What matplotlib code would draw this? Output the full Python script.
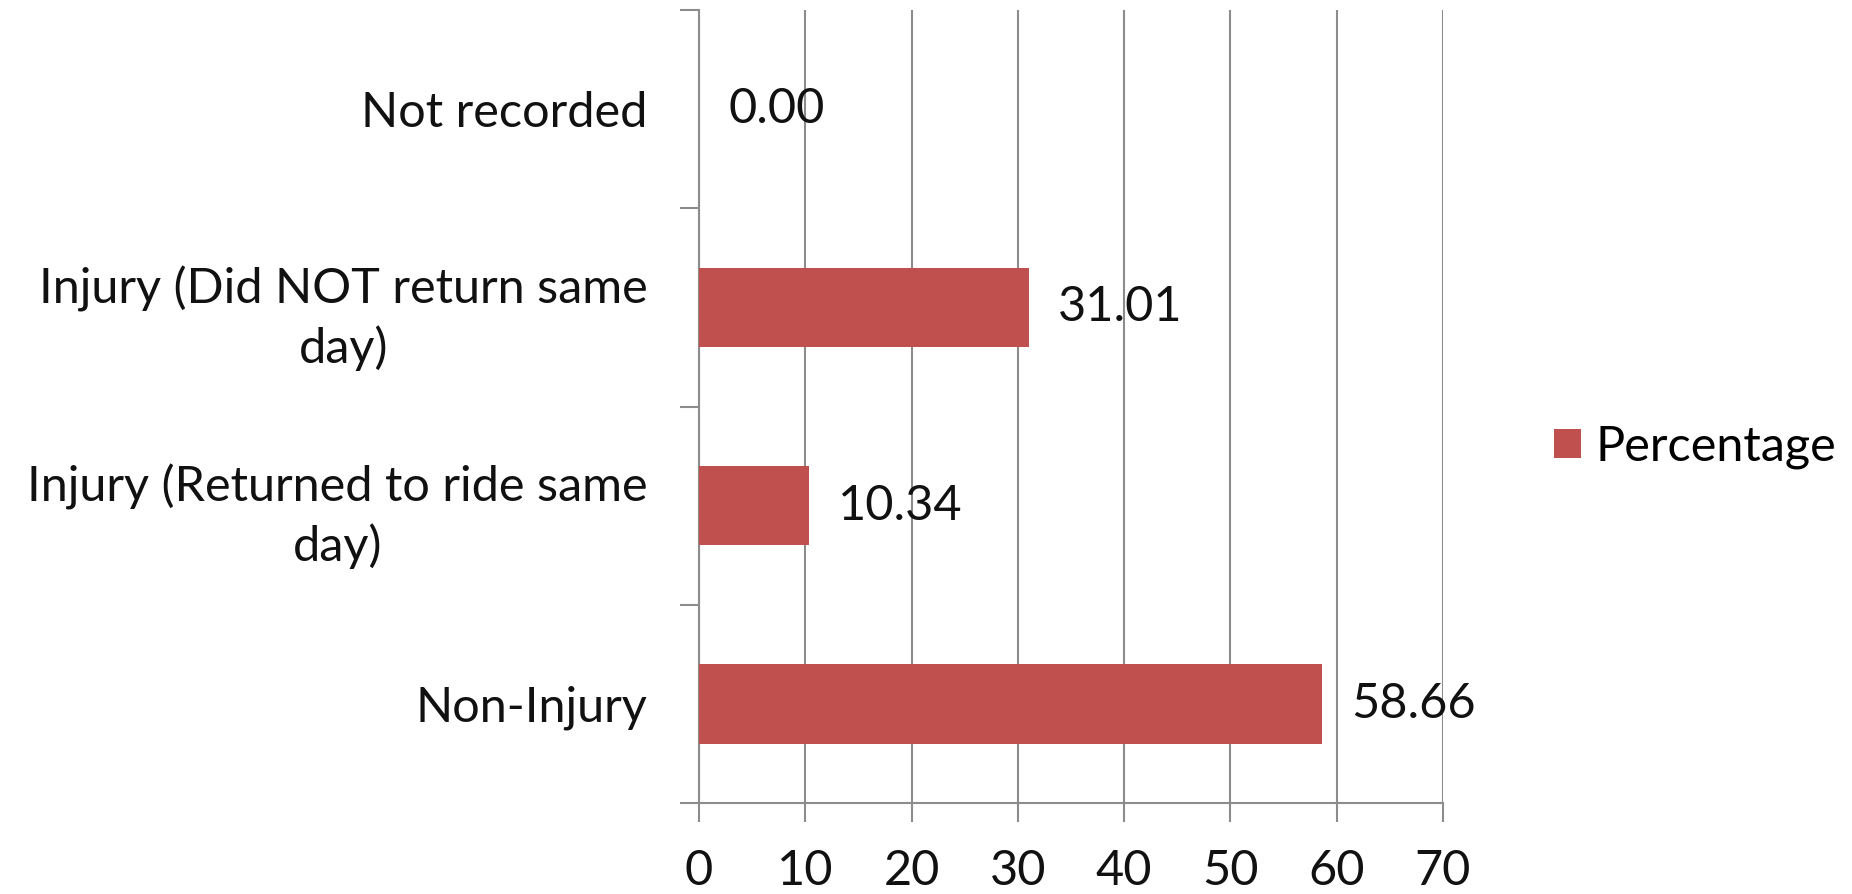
import matplotlib
matplotlib.use("Agg")
import matplotlib.pyplot as plt
import numpy as np

categories = ["Non-Injury",
              "Injury (Returned to ride same\nday)",
              "Injury (Did NOT return same\nday)",
              "Not recorded"]
values = [58.66, 10.34, 31.01, 0.00]
series_name = "Percentage"
x_ticks = [0, 10, 20, 30, 40, 50, 60, 70]

plt.rcParams['font.family'] = ['Lato', 'DejaVu Sans']
FS = 35
BAR = "#C0504D"
GRID = "#8C8C8C"

fig = plt.figure(figsize=(18.52, 8.94), dpi=100)
ax = fig.add_axes([699/1852, 91/894, (1443-699)/1852, (803-10)/894])

y = np.arange(len(categories))
bars = ax.barh(y, values, height=0.4, color=BAR, label=series_name, zorder=3)
txts = ax.bar_label(bars, labels=[f"{v:.2f}" for v in values], padding=21, fontsize=FS, color="#111111")
for t in txts:
    t.set_va('center')

ax.set_xlim(0, 70)
ax.set_ylim(-0.5, len(categories) - 0.5)
ax.set_xticks(x_ticks)
ax.set_xticklabels([str(t) for t in x_ticks])
ax.xaxis.grid(True, color=GRID, linewidth=1.5, zorder=0)

ax.set_yticks(np.arange(-0.5, len(categories), 1.0))
ax.set_yticklabels([])
ax.set_yticks(y, minor=True)
ax.set_yticklabels(categories, minor=True)
ax.tick_params(axis='y', which='minor', length=0, pad=37, labelsize=FS, labelcolor="#111111")
ax.tick_params(axis='y', which='major', length=14, width=1.5, color=GRID, direction='out')
ax.tick_params(axis='x', length=14, width=1.5, color=GRID, direction='out', pad=19,
               labelsize=FS, labelcolor="#111111")
for lab in ax.get_yticklabels(minor=True):
    lab.set_multialignment('center')
    lab.set_linespacing(1.36)

for s in ['top', 'right']:
    ax.spines[s].set_visible(False)
for s in ['left', 'bottom']:
    ax.spines[s].set_color(GRID)
    ax.spines[s].set_linewidth(1.5)

fig.legend(handles=[bars], labels=[series_name], loc='center left',
           bbox_to_anchor=(1554/1852, 447/894), frameon=False, fontsize=FS,
           handlelength=0.56, handleheight=0.56, handletextpad=0.3,
           borderpad=0, borderaxespad=0)

fig.savefig("out.png", dpi=100)
